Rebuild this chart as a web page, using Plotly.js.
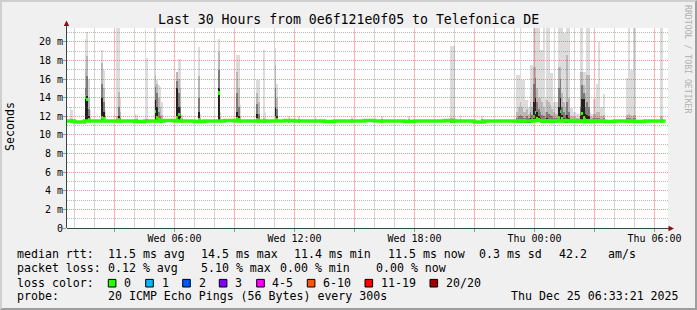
<!DOCTYPE html>
<html><head><meta charset="utf-8">
<script src="https://cdn.plot.ly/plotly-3.0.1.min.js"></script>
<style>
html,body{margin:0;padding:0;background:#f0f0f0;}
#wrap{position:relative;width:697px;height:310px;overflow:hidden;}
#chart{width:697px;height:310px;}
#frame{position:absolute;left:0;top:0;width:697px;height:310px;box-sizing:border-box;
border-top:2px solid #cfcfcf;border-left:2px solid #cfcfcf;border-right:2px solid #9e9e9e;border-bottom:2px solid #9e9e9e;pointer-events:none;}
</style></head><body>
<div id="wrap"><div id="chart"></div><div id="frame"></div></div>
<script>
// ---------- data ----------
const titleText = 'Last 30 Hours from 0e6f121e0f05 to Telefonica DE';
const yTickVals = [0, 2, 4, 6, 8, 10, 12, 14, 16, 18, 20];
const yTickText = ['0', '2 m', '4 m', '6 m', '8 m', '10 m', '12 m', '14 m', '16 m', '18 m', '20 m'];
const xTickVals = ['2025-12-24 03:00', '2025-12-24 06:00', '2025-12-24 09:00', '2025-12-24 12:00', '2025-12-24 15:00',
  '2025-12-24 18:00', '2025-12-24 21:00', '2025-12-25 00:00', '2025-12-25 03:00', '2025-12-25 06:00'];
const xTickText = ['', 'Wed 06:00', '', 'Wed 12:00', '', 'Wed 18:00', '', 'Thu 00:00', '', 'Thu 06:00'];

// median rtt baseline (ms), every 30 min
const medianTimes = [
 '2025-12-24 00:30','2025-12-24 01:00','2025-12-24 01:30','2025-12-24 02:00','2025-12-24 02:30','2025-12-24 03:00',
 '2025-12-24 03:30','2025-12-24 04:00','2025-12-24 04:30','2025-12-24 05:00','2025-12-24 05:30','2025-12-24 06:00',
 '2025-12-24 06:30','2025-12-24 07:00','2025-12-24 07:30','2025-12-24 08:00','2025-12-24 08:30','2025-12-24 09:00',
 '2025-12-24 09:30','2025-12-24 10:00','2025-12-24 10:30','2025-12-24 11:00','2025-12-24 11:30','2025-12-24 12:00',
 '2025-12-24 12:30','2025-12-24 13:00','2025-12-24 13:30','2025-12-24 14:00','2025-12-24 14:30','2025-12-24 15:00',
 '2025-12-24 15:30','2025-12-24 16:00','2025-12-24 16:30','2025-12-24 17:00','2025-12-24 17:30','2025-12-24 18:00',
 '2025-12-24 18:30','2025-12-24 19:00','2025-12-24 19:30','2025-12-24 20:00','2025-12-24 20:30','2025-12-24 21:00',
 '2025-12-24 21:30','2025-12-24 22:00','2025-12-24 22:30','2025-12-24 23:00','2025-12-24 23:30','2025-12-25 00:00',
 '2025-12-25 00:30','2025-12-25 01:00','2025-12-25 01:30','2025-12-25 02:00','2025-12-25 02:30','2025-12-25 03:00',
 '2025-12-25 03:30','2025-12-25 04:00','2025-12-25 04:30','2025-12-25 05:00','2025-12-25 05:30','2025-12-25 06:00',
 '2025-12-25 06:30','2025-12-25 06:33:21'];
const medianValues = [
 11.5, 11.4, 11.5, 11.5, 11.5, 11.5,
 11.5, 11.45, 11.5, 11.5, 11.55, 11.5,
 11.5, 11.45, 11.5, 11.5, 11.55, 11.5,
 11.5, 11.5, 11.5, 11.5, 11.55, 11.5,
 11.5, 11.5, 11.45, 11.5, 11.5, 11.5,
 11.55, 11.5, 11.5, 11.5, 11.45, 11.5,
 11.5, 11.5, 11.55, 11.5, 11.5, 11.4,
 11.5, 11.5, 11.5, 11.5, 11.5, 11.55,
 11.5, 11.5, 11.55, 11.5, 11.45, 11.5,
 11.45, 11.5, 11.5, 11.45, 11.5, 11.5,
 11.5, 11.5];

// smoke samples (5-minute steps): max ping, upper band, middle band, dark core, median
const smokeTimes = [
 '2025-12-24 00:45','2025-12-24 00:50','2025-12-24 01:30','2025-12-24 01:35','2025-12-24 01:40','2025-12-24 01:45',
 '2025-12-24 02:20','2025-12-24 02:25','2025-12-24 02:30','2025-12-24 03:05','2025-12-24 03:10','2025-12-24 03:15',
 '2025-12-24 04:00','2025-12-24 04:05','2025-12-24 04:30','2025-12-24 04:35','2025-12-24 05:00','2025-12-24 05:05',
 '2025-12-24 05:10','2025-12-24 05:15','2025-12-24 05:20','2025-12-24 06:05','2025-12-24 06:10','2025-12-24 06:15',
 '2025-12-24 06:20','2025-12-24 07:10','2025-12-24 07:15','2025-12-24 08:10','2025-12-24 08:15','2025-12-24 09:05',
 '2025-12-24 09:10','2025-12-24 09:15','2025-12-24 10:05','2025-12-24 10:10','2025-12-24 10:25','2025-12-24 10:30',
 '2025-12-24 11:00','2025-12-24 11:05','2025-12-24 11:40','2025-12-24 12:10','2025-12-24 13:00','2025-12-24 14:50',
 '2025-12-24 16:20','2025-12-24 17:40','2025-12-24 19:45','2025-12-24 19:50','2025-12-24 19:55','2025-12-24 20:15',
 '2025-12-24 21:20','2025-12-24 23:05','2025-12-24 23:10','2025-12-24 23:15','2025-12-24 23:20','2025-12-24 23:25',
 '2025-12-24 23:30','2025-12-24 23:35','2025-12-24 23:40','2025-12-24 23:45','2025-12-24 23:50','2025-12-24 23:55',
 '2025-12-25 00:00','2025-12-25 00:05','2025-12-25 00:10','2025-12-25 00:15','2025-12-25 00:20','2025-12-25 00:25',
 '2025-12-25 00:30','2025-12-25 00:35','2025-12-25 00:40','2025-12-25 00:45','2025-12-25 00:50','2025-12-25 00:55',
 '2025-12-25 01:00','2025-12-25 01:05','2025-12-25 01:10','2025-12-25 01:15','2025-12-25 01:20','2025-12-25 01:25',
 '2025-12-25 01:30','2025-12-25 01:35','2025-12-25 01:40','2025-12-25 01:45','2025-12-25 01:50','2025-12-25 01:55',
 '2025-12-25 02:00','2025-12-25 02:05','2025-12-25 02:10','2025-12-25 02:15','2025-12-25 02:20','2025-12-25 02:25',
 '2025-12-25 02:30','2025-12-25 02:35','2025-12-25 02:40','2025-12-25 02:45','2025-12-25 02:50','2025-12-25 02:55',
 '2025-12-25 03:00','2025-12-25 03:05','2025-12-25 03:10','2025-12-25 03:15','2025-12-25 03:20','2025-12-25 03:25',
 '2025-12-25 04:35','2025-12-25 04:40','2025-12-25 04:45','2025-12-25 04:50','2025-12-25 04:55','2025-12-25 05:00',
 '2025-12-25 06:15','2025-12-25 06:20'];
const pingMax = [
 13.0, 12.7, 20.3, 21.1, 16.0, 12.7,
 19.1, 17.0, 12.7, 23.0, 23.0, 14.1,
 12.3, 12.2, 21.3, 18.3, 23.0, 15.9,
 15.4, 15.2, 13.5, 16.8, 18.2, 18.2,
 12.2, 19.5, 12.3, 20.3, 12.5, 18.6,
 18.6, 13.2, 15.9, 15.9, 19.1, 12.5,
 19.3, 15.5, 12.0, 12.0, 11.9, 11.9,
 12.0, 12.0, 19.6, 19.6, 19.6, 12.1,
 12.0, 16.5, 16.5, 23.0, 15.9, 15.9,
 13.8, 13.8, 13.0, 17.5, 17.5, 23.0,
 23.0, 23.0, 23.0, 19.1, 19.1, 23.0,
 14.0, 23.0, 23.0, 16.7, 16.7, 13.5,
 13.5, 13.5, 23.0, 23.0, 23.0, 21.0,
 21.0, 23.0, 23.0, 12.9, 12.9, 12.5,
 12.5, 12.3, 12.3, 23.0, 23.0, 16.8,
 16.8, 23.0, 23.0, 12.5, 12.3, 13.9,
 13.9, 15.5, 20.0, 13.0, 13.0, 14.4,
 16.1, 23.0, 17.0, 17.0, 23.0, 23.0,
 23.0, 23.0];
const pingUpper = [
 11.8, 11.7, 17.0, 18.5, 14.0, 11.8,
 17.7, 15.0, 12.0, 12.0, 14.6, 12.5,
 11.7, 11.7, 11.7, 11.7, 16.5, 15.5,
 14.0, 13.0, 12.2, 16.8, 16.0, 15.0,
 11.8, 16.3, 11.8, 18.9, 12.0, 16.8,
 15.0, 12.0, 14.5, 13.5, 11.8, 11.7,
 17.5, 14.0, 11.7, 11.7, 11.7, 11.7,
 11.7, 11.7, 11.8, 11.8, 11.8, 11.7,
 11.7, 12.5, 13.0, 13.5, 13.0, 12.5,
 12.5, 12.8, 12.3, 13.5, 13.0, 17.3,
 17.3, 15.0, 14.0, 14.0, 13.5, 13.0,
 12.5, 13.8, 13.5, 13.2, 12.8, 12.5,
 12.3, 12.3, 17.3, 17.3, 14.5, 13.5,
 13.0, 18.6, 14.0, 12.0, 12.0, 11.9,
 11.9, 11.8, 11.8, 16.8, 16.8, 15.4,
 14.5, 16.5, 16.5, 12.0, 11.9, 12.3,
 12.3, 12.5, 12.5, 12.0, 12.0, 12.2,
 12.2, 12.3, 12.2, 12.0, 12.2, 12.2,
 12.0, 12.0];
const pingMid = [
 11.6, 11.6, 15.0, 16.3, 12.8, 11.6,
 15.5, 13.5, 11.7, 11.7, 13.0, 11.8,
 11.6, 11.6, 11.6, 11.6, 15.2, 14.5,
 12.5, 12.0, 11.7, 15.8, 14.5, 13.0,
 11.6, 14.0, 11.6, 17.0, 11.7, 14.5,
 13.0, 11.7, 13.3, 12.3, 11.6, 11.6,
 15.0, 12.8, 11.6, 11.6, 11.6, 11.6,
 11.6, 11.6, 11.6, 11.6, 11.6, 11.6,
 11.6, 11.8, 12.0, 12.2, 12.0, 11.8,
 11.8, 12.0, 11.8, 12.5, 12.2, 15.5,
 16.1, 13.5, 12.8, 12.5, 12.2, 12.0,
 11.8, 12.5, 12.3, 12.2, 12.0, 11.8,
 11.8, 11.8, 15.0, 16.0, 13.0, 12.5,
 12.2, 13.5, 12.5, 11.7, 11.7, 11.7,
 11.7, 11.7, 11.7, 13.0, 15.4, 14.5,
 13.0, 13.5, 13.0, 11.7, 11.7, 11.8,
 11.8, 11.8, 11.8, 11.7, 11.7, 11.8,
 11.8, 11.8, 11.8, 11.7, 11.8, 11.8,
 11.7, 11.7];
const pingCore = [
 11.6, 11.6, 14.0, 14.2, 12.0, 11.6,
 14.0, 12.5, 11.6, 11.6, 12.0, 11.6,
 11.6, 11.6, 11.6, 11.6, 13.8, 13.0,
 11.8, 11.6, 11.6, 15.0, 13.0, 12.0,
 11.6, 12.5, 11.6, 15.0, 11.6, 12.5,
 12.0, 11.6, 12.3, 11.7, 11.6, 11.6,
 13.0, 12.0, 11.6, 11.6, 11.6, 11.6,
 11.6, 11.6, 11.6, 11.6, 11.6, 11.6,
 11.6, 11.6, 11.6, 11.7, 11.6, 11.6,
 11.6, 11.6, 11.6, 11.8, 11.7, 13.5,
 14.0, 12.5, 12.0, 11.8, 11.7, 11.7,
 11.6, 11.8, 11.7, 11.7, 11.6, 11.6,
 11.6, 11.6, 13.0, 14.0, 12.2, 11.8,
 11.7, 12.2, 11.8, 11.6, 11.6, 11.6,
 11.6, 11.6, 11.6, 12.0, 13.9, 13.9,
 12.3, 12.2, 12.0, 11.6, 11.6, 11.6,
 11.6, 11.6, 11.6, 11.6, 11.6, 11.6,
 11.6, 11.6, 11.6, 11.6, 11.6, 11.6,
 11.6, 11.6];
const smokeMedian = [
 11.5, 11.5, 14.1, 13.8, 11.6, 11.5,
 11.9, 11.7, 11.5, 11.5, 11.6, 11.5,
 11.5, 11.5, 11.5, 11.5, 12.5, 11.9,
 11.6, 11.5, 11.5, 11.8, 12.2, 11.6,
 11.5, 11.6, 11.5, 14.5, 11.5, 11.7,
 11.6, 11.5, 11.6, 11.5, 11.5, 11.5,
 11.8, 11.6, 11.5, 11.5, 11.5, 11.5,
 11.5, 11.5, 11.5, 11.5, 11.5, 11.5,
 11.5, 11.5, 11.5, 11.5, 11.5, 11.5,
 11.5, 11.5, 11.5, 11.5, 11.5, 12.0,
 12.4, 11.7, 11.6, 11.5, 11.5, 11.5,
 11.5, 11.5, 11.5, 11.5, 11.5, 11.5,
 11.5, 11.5, 11.8, 12.5, 11.7, 11.5,
 11.5, 11.5, 11.5, 11.5, 11.5, 11.5,
 11.5, 11.5, 11.5, 11.5, 12.3, 11.8,
 11.6, 11.5, 11.5, 11.5, 11.5, 11.5,
 11.5, 11.5, 11.5, 11.5, 11.5, 11.5,
 11.5, 11.5, 11.5, 11.5, 11.5, 11.5,
 11.5, 11.5];

// samples with packet loss (number of lost pings of 20)
const lossTimes = ['2025-12-24 23:15','2025-12-24 23:20','2025-12-24 23:35','2025-12-24 23:40','2025-12-24 23:45',
  '2025-12-25 00:30','2025-12-25 00:50','2025-12-25 00:55','2025-12-25 01:35'];
const lossMedian = [11.5, 11.5, 11.5, 11.5, 11.5, 11.45, 11.5, 11.5, 11.45];
const lossCount = [1, 1, 2, 2, 2, 1, 1, 1, 1];

// legend
const lossLegendLabels = ['0', '1', '2', '3', '4-5', '6-10', '11-19', '20/20'];
const lossLegendColors = ['#26ff00', '#00b8ff', '#0059ff', '#7e00ff', '#ff00ff', '#ff5500', '#ff0000', '#a10000'];
const rttStats = ['11.5 ms avg', '14.5 ms max', '11.4 ms min', '11.5 ms now', '0.3 ms sd', '42.2', 'am/s'];
const lossStats = ['0.12 % avg', '5.10 % max', '0.00 % min', '0.00 % now'];
const probeText = '20 ICMP Echo Pings (56 Bytes) every 300s';
const stampText = 'Thu Dec 25 06:33:21 2025';

// ---------- geometry helpers (pixel -> paper) ----------
const L = 67, R = 668, T = 28, B = 228;
const px = x => (x - L) / (R - L);
const py = y => (B - y) / (B - T);
const MONO = 'DejaVu Sans Mono';
const smokeBase = 11.4;
const STEP = 300000;
const HOUR = 3600000;
const toMs = t => new Date(t.replace(' ', 'T') + 'Z').getTime();
const fmt = ms => new Date(ms).toISOString().replace('T', ' ').replace('Z', '');
const shift = t => fmt(toMs(t) + STEP / 2);
const xs = smokeTimes.map(shift);

const xRange = ['2025-12-24 00:37:30', '2025-12-25 06:40:30'];
const yRange = [0, 21.5];

const majorGrid = 'rgba(255,0,0,0.42)';
const minorGrid = 'rgba(90,90,90,0.42)';
const majorGridV = 'rgba(255,0,0,0.3)';
const minorGridV = 'rgba(90,90,90,0.26)';
const dash = '1px,1px';

// vertical grid positions: every hour, red every 3 hours
const gridMajorX = [], gridMinorX = [], gridMajorY = [], gridMinorY = [];
for (let ms = toMs('2025-12-24 01:00'); ms <= toMs('2025-12-25 06:30'); ms += HOUR) {
  const isMajor = new Date(ms).getUTCHours() % 3 === 0;
  (isMajor ? gridMajorX : gridMinorX).push(fmt(ms), fmt(ms), null);
  (isMajor ? gridMajorY : gridMinorY).push(yRange[0], yRange[1], null);
}

function smokeTrace(tops, color) {
  return {type: 'bar', x: xs, base: tops.map(() => smokeBase), y: tops.map(v => v - smokeBase),
    width: tops.map(() => STEP), marker: {color: color, line: {width: 0}}, hoverinfo: 'skip', showlegend: false};
}
const gridTrace = (x, y, color) => ({type: 'scatter', mode: 'lines', x: x, y: y, connectgaps: false,
  line: {color: color, width: 1}, hoverinfo: 'skip', showlegend: false});
const medW = 0.38;
const traces = [
  smokeTrace(pingMax, '#dcdcdc'),
  smokeTrace(pingUpper, '#b8b8b8'),
  smokeTrace(pingMid, '#7c7c7c'),
  smokeTrace(pingCore, '#202020'),
  gridTrace(gridMinorX, gridMinorY, minorGridV),
  gridTrace(gridMajorX, gridMajorY, majorGridV),
  {type: 'scatter', mode: 'lines', x: medianTimes, y: medianValues, line: {color: '#26ff00', width: 3.6, shape: 'hv'},
    hoverinfo: 'skip', showlegend: false},
  {type: 'bar', x: xs, base: smokeMedian.map(v => v - medW / 2), y: smokeMedian.map(() => medW),
    width: xs.map(() => STEP), marker: {color: '#26ff00', line: {width: 0}}, hoverinfo: 'skip', showlegend: false},
  {type: 'bar', x: lossTimes.map(shift), base: lossMedian.map(v => v - medW / 2), y: lossMedian.map(() => medW),
    width: lossTimes.map(() => STEP), marker: {color: lossCount.map(c => lossLegendColors[c]), line: {width: 0}},
    hoverinfo: 'skip', showlegend: false}
];

const annotations = [];
function txt(text, x, y, size, opts) {
  annotations.push(Object.assign({text: text, xref: 'paper', yref: 'paper', x: px(x), y: py(y), showarrow: false,
    xanchor: 'left', yanchor: 'middle', borderpad: 0, font: {family: MONO, size: size, color: '#000'}}, opts || {}));
}
txt(titleText, 348, 19, 13.2, {xanchor: 'center'});
txt('Seconds', 10, 127, 11.6, {xanchor: 'center', textangle: -90});
txt('RRDTOOL / TOBI OETIKER', 688, 59, 8.2, {xanchor: 'center', textangle: 90, font: {family: MONO, size: 8.2, color: '#b0b0b0'}});
const F = 11.6;
const r1 = 254.3, r2 = 268.3, r3 = 282.5, r4 = 295.7;
txt('median rtt:', 16, r1, F);
[107.3, 200, 293.3, 386.7, 478.3, 558.3, 606.7].forEach((x, i) => txt(rttStats[i], x, r1, F));
txt('packet loss:', 16, r2, F);
[107.3, 200, 279.3, 375].forEach((x, i) => txt(lossStats[i], x, r2, F));
txt('loss color:', 16, r3, F);
const boxX = [108.3, 145.7, 182.7, 219.3, 256.7, 307.3, 365, 430];
const labX = [123.3, 160.7, 197.7, 234.3, 271, 321.7, 380, 445];
labX.forEach((x, i) => txt(lossLegendLabels[i], x, r3, F));
txt('probe:', 16, r4, F);
txt(probeText, 107.3, r4, F);
txt(stampText, 680, r4, F, {xanchor: 'right'});

const shapes = [];
// horizontal grid above the smoke: every ms, red every 2 ms (pixel-centred, like rrdtool's crisp grid)
const yPix = v => B - v * (B - T) / (yRange[1] - yRange[0]);
for (let v = 1; v <= 21; v++) {
  const yc = Math.floor(yPix(v)) + 0.5;
  shapes.push({type: 'line', layer: 'above', xref: 'paper', yref: 'paper', x0: 0, x1: 1, y0: py(yc), y1: py(yc),
    line: {color: v % 2 === 0 ? majorGrid : minorGrid, width: 1, dash: dash}});
}
boxX.forEach((x, i) => shapes.push({type: 'rect', xref: 'paper', yref: 'paper', x0: px(x), x1: px(x + 7.6),
  y0: py(287), y1: py(279.4), fillcolor: lossLegendColors[i], line: {color: '#000', width: 1}}));
// axis lines and arrows
shapes.push({type: 'line', xref: 'paper', yref: 'paper', x0: px(66.5), x1: px(66.5), y0: py(228), y1: py(25),
  line: {color: '#2c4d43', width: 1}});
shapes.push({type: 'line', xref: 'paper', yref: 'paper', x0: px(67), x1: px(670), y0: py(228.5), y1: py(228.5),
  line: {color: '#2c4d43', width: 1}});
shapes.push({type: 'path', xref: 'paper', yref: 'paper', fillcolor: '#8b1010', line: {width: 0},
  path: `M ${px(66.5)},${py(20.5)} L ${px(63.8)},${py(26)} L ${px(69.2)},${py(26)} Z`});
shapes.push({type: 'path', xref: 'paper', yref: 'paper', fillcolor: '#8b1010', line: {width: 0},
  path: `M ${px(674)},${py(228.5)} L ${px(668.5)},${py(225.8)} L ${px(668.5)},${py(231.2)} Z`});

const layout = {
  width: 697, height: 310, margin: {l: L, r: 697 - R, t: T, b: 310 - B, pad: 0},
  paper_bgcolor: '#f0f0f0', plot_bgcolor: '#ffffff', barmode: 'overlay', bargap: 0, showlegend: false,
  xaxis: {type: 'date', range: xRange, tickmode: 'array', tickvals: xTickVals, ticktext: xTickText,
    ticks: 'outside', ticklen: 3, tickcolor: '#999', showgrid: false, zeroline: false, showline: false, ticklabelstandoff: -2,
    tickfont: {family: MONO, size: 10, color: '#000'}, fixedrange: true},
  yaxis: {range: yRange, tickmode: 'array', tickvals: yTickVals, ticktext: yTickText,
    ticks: 'outside', ticklen: 3, tickcolor: '#999', showgrid: false, zeroline: false, showline: false, ticklabelstandoff: -2,
    tickfont: {family: MONO, size: 10, color: '#000'}, fixedrange: true},
  annotations: annotations, shapes: shapes
};
Plotly.newPlot('chart', traces, layout, {staticPlot: true, displayModeBar: false});
</script></body></html>
